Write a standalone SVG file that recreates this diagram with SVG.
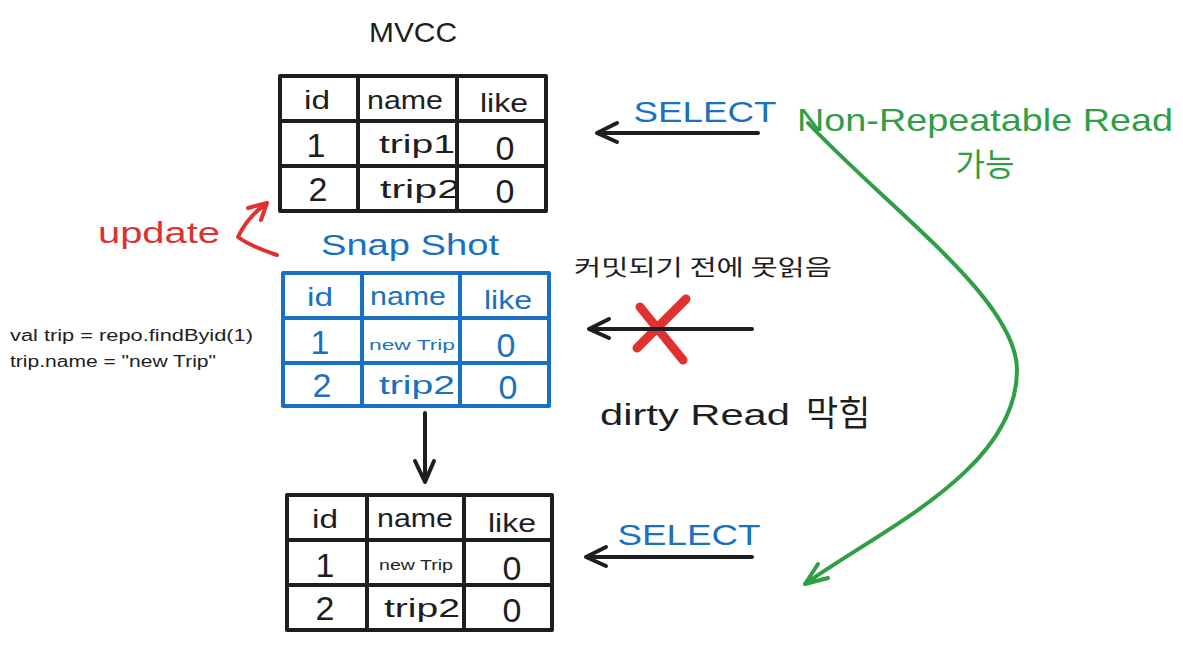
<svg xmlns="http://www.w3.org/2000/svg" width="1183" height="645" viewBox="0 0 1183 645">
<style>
  .bg{fill:#ffffff}
  .cellK{fill:none;stroke:#1e1e1e;stroke-width:4;stroke-linejoin:round}
  .cellB{fill:none;stroke:#1971c2;stroke-width:4;stroke-linejoin:round}
  .t{font-family:"Liberation Sans","Noto Sans CJK KR",sans-serif;text-anchor:middle}
  .k{fill:#1e1e1e}
  .b{fill:#1971c2}
  .r{fill:#e03131}
  .g{fill:#2f9e44}
  .cell{font-size:26px}
  .dig{font-size:34px}
  .small{font-size:15px}
  .ko{font-family:"Noto Sans CJK KR","Liberation Sans",sans-serif}
  .arrK{fill:none;stroke:#1e1e1e;stroke-width:4;stroke-linecap:round;stroke-linejoin:round}
  .arrG{fill:none;stroke:#2f9e44;stroke-width:4;stroke-linecap:round;stroke-linejoin:round}
  .arrR{fill:none;stroke:#e03131;stroke-width:4;stroke-linecap:round;stroke-linejoin:round}
  .xR{fill:none;stroke:#e03131;stroke-width:9;stroke-linecap:round}
</style>
<rect class="bg" x="0" y="0" width="1183" height="645"/>

<g id="title">
  <text class="t k" x="413" y="42" font-size="28" textLength="88" lengthAdjust="spacingAndGlyphs">MVCC</text>
</g>

<g id="table-top">
  <rect class="cellK" x="280" y="76" width="266" height="135"/>
  <line class="cellK" x1="280" y1="121" x2="546" y2="121" stroke-width="6"/>
  <line class="cellK" x1="280" y1="166" x2="546" y2="166" stroke-width="6"/>
  <line class="cellK" x1="358" y1="76" x2="358" y2="211"/>
  <line class="cellK" x1="457" y1="76" x2="457" y2="211"/>
  <text class="t k cell" x="317" y="109" textLength="26" lengthAdjust="spacingAndGlyphs">id</text>
  <text class="t k cell" x="405" y="109" textLength="76" lengthAdjust="spacingAndGlyphs">name</text>
  <text class="t k cell" x="504" y="112" textLength="48" lengthAdjust="spacingAndGlyphs">like</text>
  <text class="t k dig" x="316" y="157">1</text>
  <text class="t k cell" x="417" y="153" textLength="76" lengthAdjust="spacingAndGlyphs">trip1</text>
  <text class="t k dig" x="505" y="160">0</text>
  <text class="t k dig" x="318" y="201">2</text>
  <text class="t k cell" x="420" y="198" textLength="80" lengthAdjust="spacingAndGlyphs">trip2</text>
  <text class="t k dig" x="505" y="203">0</text>
</g>

<g id="update-label">
  <text class="t r" x="159" y="243" font-size="30" textLength="122" lengthAdjust="spacingAndGlyphs">update</text>
</g>

<g id="snapshot-title">
  <text class="t b" x="410" y="255" font-size="30" textLength="178" lengthAdjust="spacingAndGlyphs">Snap Shot</text>
</g>

<g id="table-snapshot">
  <rect class="cellB" x="283" y="273" width="266" height="133"/>
  <line class="cellB" x1="283" y1="318" x2="549" y2="318" stroke-width="6"/>
  <line class="cellB" x1="283" y1="363" x2="549" y2="363" stroke-width="6"/>
  <line class="cellB" x1="362" y1="273" x2="362" y2="406"/>
  <line class="cellB" x1="460" y1="273" x2="460" y2="406"/>
  <text class="t b cell" x="320" y="306" textLength="26" lengthAdjust="spacingAndGlyphs">id</text>
  <text class="t b cell" x="408" y="305" textLength="76" lengthAdjust="spacingAndGlyphs">name</text>
  <text class="t b cell" x="508" y="309" textLength="48" lengthAdjust="spacingAndGlyphs">like</text>
  <text class="t b dig" x="320" y="354">1</text>
  <text class="t b small" x="412" y="350" textLength="86" lengthAdjust="spacingAndGlyphs">new Trip</text>
  <text class="t b dig" x="506" y="357">0</text>
  <text class="t b dig" x="322" y="397">2</text>
  <text class="t b cell" x="417" y="394" textLength="76" lengthAdjust="spacingAndGlyphs">trip2</text>
  <text class="t b dig" x="508" y="399">0</text>
</g>

<g id="code">
  <text class="k" x="10" y="341" font-family="Liberation Sans,sans-serif" font-size="16" textLength="243" lengthAdjust="spacingAndGlyphs">val trip = repo.findByid(1)</text>
  <text class="k" x="10" y="367" font-family="Liberation Sans,sans-serif" font-size="16" textLength="206" lengthAdjust="spacingAndGlyphs">trip.name = "new Trip"</text>
</g>

<g id="table-bottom">
  <rect class="cellK" x="287" y="495" width="265" height="135"/>
  <line class="cellK" x1="287" y1="540" x2="552" y2="540" stroke-width="6"/>
  <line class="cellK" x1="287" y1="585" x2="552" y2="585" stroke-width="6"/>
  <line class="cellK" x1="367" y1="495" x2="367" y2="630"/>
  <line class="cellK" x1="464" y1="495" x2="464" y2="630"/>
  <text class="t k cell" x="325" y="528" textLength="26" lengthAdjust="spacingAndGlyphs">id</text>
  <text class="t k cell" x="415" y="527" textLength="76" lengthAdjust="spacingAndGlyphs">name</text>
  <text class="t k cell" x="512" y="532" textLength="48" lengthAdjust="spacingAndGlyphs">like</text>
  <text class="t k dig" x="325" y="577">1</text>
  <text class="t k" x="416" y="570" font-size="14" textLength="74" lengthAdjust="spacingAndGlyphs">new Trip</text>
  <text class="t k dig" x="512" y="580">0</text>
  <text class="t k dig" x="325" y="620">2</text>
  <text class="t k cell" x="422" y="617" textLength="76" lengthAdjust="spacingAndGlyphs">trip2</text>
  <text class="t k dig" x="512" y="622">0</text>
</g>

<g id="labels-right">
  <text class="t b" x="705" y="122" font-size="30" textLength="143" lengthAdjust="spacingAndGlyphs">SELECT</text>
  <text class="t g" x="985" y="131" font-size="32" textLength="376" lengthAdjust="spacingAndGlyphs">Non-Repeatable Read</text>
  <text class="t g ko" x="985" y="176" font-size="32">가능</text>
  <text class="t k ko" x="703" y="275" font-size="22" textLength="258" lengthAdjust="spacingAndGlyphs">커밋되기 전에 못읽음</text>
  <text class="k" x="600" y="425" font-family="Liberation Sans,sans-serif" font-size="30" textLength="190" lengthAdjust="spacingAndGlyphs">dirty Read</text>
  <text class="k ko" x="806" y="426" font-size="35">막힘</text>
  <text class="t b" x="689" y="545" font-size="30" textLength="143" lengthAdjust="spacingAndGlyphs">SELECT</text>
</g>

<g id="red-x">
  <line class="xR" x1="640" y1="307" x2="683" y2="360"/>
  <line class="xR" x1="686" y1="299" x2="637" y2="348"/>
</g>

<g id="connectors">
  <path class="arrK" d="M758 133 L597 133 M617 123 L597 133 L617 142"/>
  <path class="arrK" d="M752 329 L589 329 M609 319 L589 329 L609 338"/>
  <path class="arrK" d="M752 557 L586 557 M606 547 L586 557 L606 566"/>
  <path class="arrK" d="M425 413 L425 482 M415 461 L425 482 L434 461"/>
  <path class="arrR" d="M277 255 Q250 246 238 237 Q248 216 267 203 M267 203 L248 208 M267 203 L261 220"/>
  <path class="arrG" d="M808 123 C890 210 1017 300 1017 370 C1017 470 880 530 805 584 M805 584 L818 564 M805 584 L828 578"/>
</g>
</svg>
